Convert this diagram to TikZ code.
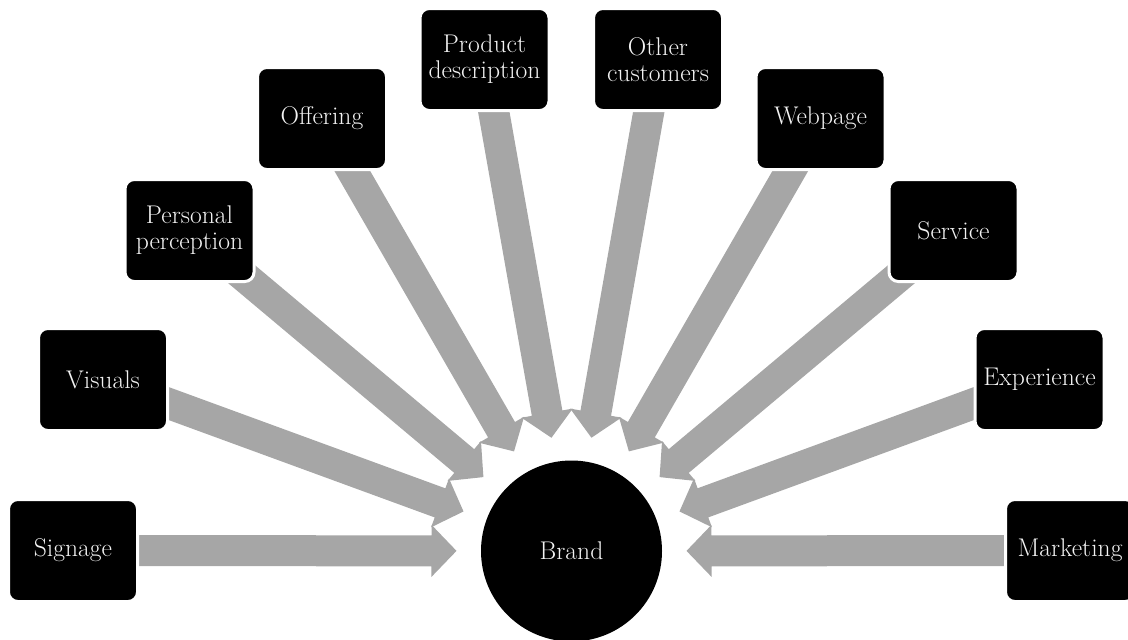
\documentclass[tikz,border=0pt]{standalone}
\usetikzlibrary{calc,backgrounds}
\definecolor{arrowgray}{HTML}{A6A6A6}
\definecolor{textwhite}{HTML}{F2F2F2}
\begin{document}
\begin{tikzpicture}[x=0.75pt,y=-0.75pt,
  box/.style={rectangle, rounded corners=7pt, fill=black, draw=white, line width=2.25pt,
    minimum width=96.75pt, minimum height=76.5pt, text=textwhite, align=center,
    font=\fontsize{19.2}{19.5}\selectfont, inner sep=0pt},
  hub/.style={circle, fill=black, minimum size=135.75pt, text=textwhite,
    font=\fontsize{19.2}{19.5}\selectfont, inner sep=0pt},
  blockarrow/.style={fill=arrowgray}]
\useasboundingbox (0,0) rectangle (1128,639);
\clip (0,0) rectangle (1128,639);
\node[hub] (brand) at (571.5,551) {Brand};
\node[box] (sig) at (73,550.5) {Signage};
\node[box] (vis) at (103,379.5) {Visuals};
\node[box] (per) at (189.5,230.5) {Personal\\perception};
\node[box] (off) at (322,118.5) {Offering};
\node[box] (pro) at (484.5,59.5) {Product\\description};
\node[box] (oth) at (658,59.5) {Other\\customers};
\node[box] (web) at (820.5,118.5) {Webpage};
\node[box] (ser) at (953.5,230.5) {Service};
\node[box] (exp) at (1039.5,379.5) {Experience};
\node[box] (mar) at (1070,550.5) {Marketing};
\begin{pgfonlayer}{background}
\foreach \b in {sig,vis,per,off,pro,oth,web,ser,exp,mar}{
  \coordinate (T) at ($(brand.center)!86.25pt!(\b.center)$);
  \coordinate (H) at ($(brand.center)!105pt!(\b.center)$);
  \fill[blockarrow]
    ($(\b.center)!11.625pt!90:(H)$) --
    ($(H)!11.625pt!-90:(\b.center)$) --
    ($(H)!19.5pt!-90:(\b.center)$) --
    (T) --
    ($(H)!19.5pt!90:(\b.center)$) --
    ($(H)!11.625pt!90:(\b.center)$) --
    ($(\b.center)!11.625pt!-90:(H)$) -- cycle;
}
\end{pgfonlayer}
\end{tikzpicture}
\end{document}
